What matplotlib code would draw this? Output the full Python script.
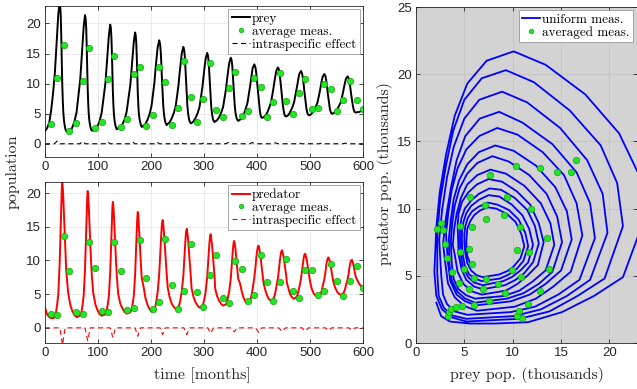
import matplotlib
matplotlib.use("Agg")
import matplotlib.pyplot as plt

# trajectory: time [months], prey / predator [thousands]
t = [0, 4, 8, 11.5, 15, 18.5, 20.8, 23, 25, 27.5, 28.7, 29.8, 30.8, 31.7, 32.5, 33.5, 34.5, 35.7, 37, 38.5, 40,
     43.5, 47.5, 51.5, 55.5, 59.5, 66.5, 68.8, 71, 73, 75.5, 76.7, 77.8, 78.8, 79.7, 80.5, 81.5, 82.5, 83.7, 85, 86.5, 88,
     91, 95, 99, 103, 107, 114, 116.3, 118.5, 120.5, 123, 124.2, 125.3, 126.3, 127.2, 128, 129, 130, 131.2, 132.5, 134, 135.5,
     138, 142, 146, 150, 154, 161, 163.3, 165.5, 167.5, 170, 171.2, 172.3, 173.3, 174.2, 175, 176, 177, 178.2, 179.5, 181, 182.5,
     186, 189.5, 193.5, 197.5, 201, 206.5, 208.5, 210.5, 212.5, 215.5, 217.1, 218.4, 219.6, 220.8, 222, 223, 224.2, 225.5, 226.7, 228.1, 229.5,
     231.5, 235, 239, 243, 246.5, 252, 254, 256, 258, 261, 262.6, 263.9, 265.1, 266.3, 267.5, 268.5, 269.7, 271, 272.2, 273.6, 275,
     276.5, 280, 284, 288, 291.5, 297, 299, 301, 303, 306, 307.6, 308.9, 310.1, 311.3, 312.5, 313.5, 314.7, 316, 317.2, 318.6, 320,
     321, 324.5, 328.5, 332.5, 336, 341.5, 343.5, 345.5, 347.5, 350.5, 352.1, 353.4, 354.6, 355.8, 357, 358, 359.2, 360.5, 361.7, 363.1, 364.5,
     368, 371.5, 375, 378.5, 382, 386.5, 388.3, 390, 391.8, 395, 397, 398.5, 400, 401.5, 403, 404.2, 405.5, 406.8, 408, 409.2, 410.5,
     412.5, 416, 419.5, 423, 426.5, 431, 432.8, 434.5, 436.3, 439.5, 441.5, 443, 444.5, 446, 447.5, 448.7, 450, 451.3, 452.5, 453.7, 455,
     456.5, 460, 463, 466.5, 470, 474.5, 476.3, 478, 479.8, 483, 485, 486.5, 488, 489.5, 491, 492.2, 493.5, 494.8, 496, 497.2, 498.5,
     500.5, 503.5, 507, 510.5, 514, 518.5, 520.3, 522, 523.8, 527, 529, 530.5, 532, 533.5, 535, 536.2, 537.5, 538.8, 540, 541.2, 542.5,
     544.5, 547.5, 551, 554.5, 558, 562.5, 564.3, 566, 567.8, 571, 573, 574.5, 576, 577.5, 579, 580.2, 581.5, 582.8, 584, 585.2, 586.5, 593, 600]
prey = [2.1, 2.6, 3.5, 5.5, 8.2, 11.6, 15.1, 18.4, 21.4, 23.6, 23.0, 21.0, 17.5, 13.4, 10.1, 7.3, 5.3, 4.0, 3.1, 2.45, 2.1,
        1.9, 2.1, 2.7, 3.7, 5.2, 10.7, 13.8, 16.7, 19.5, 21.4, 20.8, 19.1, 15.9, 12.2, 9.3, 6.8, 5.0, 3.85, 3.1, 2.5, 2.2,
        2.2, 2.35, 2.9, 3.75, 5.2, 10.1, 12.9, 15.6, 18.0, 19.8, 19.3, 17.7, 14.9, 11.5, 8.9, 6.55, 5.0, 3.9, 3.2, 2.7, 2.4,
        2.6, 2.8, 3.2, 4.0, 5.3, 9.8, 12.3, 14.7, 16.9, 18.5, 18.0, 16.6, 14.1, 11.0, 8.6, 6.6, 5.1, 4.2, 3.6, 3.1, 2.8,
        3.0, 3.3, 4.0, 5.0, 6.3, 10.2, 12.4, 14.2, 16.0, 17.2, 16.6, 15.3, 13.1, 10.5, 8.4, 6.55, 5.2, 4.3, 3.7, 3.35, 3.1,
        3.3, 3.55, 4.2, 5.1, 6.2, 9.8, 11.75, 13.4, 15.0, 16.1, 15.6, 14.4, 12.4, 10.1, 8.2, 6.5, 5.3, 4.45, 3.9, 3.6, 3.4,
        3.45, 3.7, 4.3, 5.1, 6.1, 9.4, 11.1, 12.7, 14.1, 15.1, 14.6, 13.5, 11.7, 9.6, 7.9, 6.35, 5.3, 4.5, 4.0, 3.75, 3.6,
        3.7, 3.9, 4.4, 5.2, 6.1, 9.1, 10.7, 12.1, 13.4, 14.3, 13.9, 12.9, 11.2, 9.3, 7.7, 6.35, 5.3, 4.65, 4.2, 3.95, 3.8,
        4.0, 4.3, 4.9, 5.75, 6.8, 9.3, 10.5, 11.5, 12.6, 13.2, 12.7, 11.8, 10.4, 8.9, 7.5, 6.3, 5.4, 4.75, 4.4, 4.3, 4.35,
        4.4, 4.7, 5.2, 6.0, 6.9, 9.2, 10.3, 11.2, 12.1, 12.7, 12.3, 11.5, 10.2, 8.8, 7.6, 6.5, 5.7, 5.05, 4.7, 4.55, 4.55,
        4.6, 4.85, 5.4, 6.0, 6.9, 9.0, 9.9, 10.8, 11.6, 12.1, 11.7, 11.0, 9.9, 8.6, 7.5, 6.5, 5.7, 5.2, 4.9, 4.75, 4.75,
        4.8, 5.05, 5.5, 6.1, 6.8, 8.7, 9.6, 10.4, 11.1, 11.6, 11.3, 10.6, 9.6, 8.4, 7.4, 6.5, 5.8, 5.35, 5.1, 5.0, 5.0,
        5.1, 5.3, 5.7, 6.25, 6.9, 8.6, 9.45, 10.1, 10.8, 11.2, 10.9, 10.3, 9.4, 8.3, 7.4, 6.6, 6.0, 5.6, 5.3, 5.25, 5.2, 5.3, 5.6]
pred = [3.0, 2.0, 1.6, 1.45, 1.45, 1.55, 2.3, 3.5, 4.9, 9.2, 12.6, 15.6, 18.5, 20.7, 21.7, 21.0, 19.3, 16.9, 14.0, 11.2, 8.6,
        5.3, 3.5, 2.5, 1.9, 1.6, 1.8, 2.35, 3.5, 4.8, 8.7, 11.9, 14.7, 17.3, 19.4, 20.3, 19.7, 18.1, 15.8, 13.2, 10.6, 8.2,
        5.2, 3.5, 2.6, 2.05, 1.8, 2.0, 2.5, 3.5, 4.7, 8.2, 11.1, 13.6, 16.0, 17.9, 18.7, 18.1, 16.7, 14.6, 12.3, 9.9, 7.7,
        5.1, 3.6, 2.9, 2.35, 2.1, 2.3, 2.7, 3.6, 4.7, 7.8, 10.4, 12.7, 14.8, 16.4, 17.2, 16.7, 15.4, 13.6, 11.5, 9.35, 7.4,
        6.1, 4.45, 3.4, 2.75, 2.4, 2.7, 3.3, 4.2, 5.3, 8.0, 10.4, 12.5, 14.2, 15.5, 16.0, 15.4, 14.4, 13.0, 11.4, 9.75, 8.1,
        6.0, 4.6, 3.6, 3.1, 2.8, 3.1, 3.6, 4.4, 5.4, 7.7, 9.8, 11.6, 13.2, 14.3, 14.7, 14.2, 13.3, 12.1, 10.7, 9.2, 7.8,
        5.9, 4.65, 3.8, 3.3, 3.0, 3.3, 3.7, 4.4, 5.3, 7.5, 9.4, 11.1, 12.5, 13.5, 13.9, 13.4, 12.6, 11.5, 10.2, 8.9, 7.6,
        5.9, 4.75, 4.0, 3.55, 3.3, 3.5, 3.9, 4.6, 5.4, 7.3, 8.9, 10.4, 11.7, 12.6, 12.9, 12.5, 11.8, 10.8, 9.6, 8.5, 7.3,
        6.6, 5.3, 4.4, 3.85, 3.6, 3.9, 4.4, 5.0, 5.8, 7.5, 8.9, 10.3, 11.3, 12.0, 12.2, 11.8, 11.2, 10.5, 9.6, 8.75, 7.9,
        6.6, 5.5, 4.7, 4.2, 4.0, 4.3, 4.7, 5.2, 6.0, 7.4, 8.7, 9.9, 10.8, 11.4, 11.5, 11.1, 10.6, 10.0, 9.3, 8.5, 7.8,
        6.7, 5.65, 4.9, 4.5, 4.3, 4.6, 4.9, 5.4, 6.0, 7.3, 8.5, 9.5, 10.3, 10.9, 11.0, 10.65, 10.2, 9.65, 9.0, 8.3, 7.7,
        6.7, 5.75, 5.1, 4.8, 4.6, 4.8, 5.1, 5.5, 6.1, 7.2, 8.2, 9.2, 9.9, 10.3, 10.45, 10.15, 9.8, 9.3, 8.7, 8.1, 7.5,
        6.7, 5.95, 5.4, 5.05, 4.9, 5.1, 5.35, 5.7, 6.3, 7.2, 8.1, 9.0, 9.6, 10.0, 10.1, 9.85, 9.5, 9.05, 8.5, 8.0, 7.5, 6.5, 5.9]

# intraspecific effect terms
prey_eff_t = [0, 18, 23, 28, 66, 71, 76, 113, 118, 123, 160, 165, 170, 206, 211, 216,
              251, 256, 261, 296, 301, 306, 341, 346, 351, 386, 391, 396, 430, 435, 440,
              474, 479, 484, 518, 523, 528, 562, 567, 572, 600]
prey_eff = [0, 0, 0.45, 0, 0, 0.4, 0, 0, 0.35, 0, 0, 0.3, 0, 0, 0.3, 0,
            0, 0.25, 0, 0, 0.2, 0, 0, 0.2, 0, 0, 0.2, 0, 0, 0.15, 0,
            0, 0.15, 0, 0, 0.15, 0, 0, 0.1, 0, 0]
pred_eff_t = [0, 28, 33, 38, 75.5, 80.5, 85.5, 123, 128, 133, 170, 175, 180, 217, 222, 227,
              262, 267.5, 273, 307, 312.5, 318, 351, 357, 363, 397, 403, 409, 441, 447.5, 454,
              485, 491, 497, 529, 535, 541, 573, 579, 585, 600]
pred_eff = [0, 0, -2.5, 0, 0, -1.9, 0, 0, -1.45, 0, 0, -1.25, 0, 0, -1.0, 0,
            0, -1.0, 0, 0, -0.8, 0, 0, -0.6, 0, 0, -0.65, 0, 0, -0.55, 0,
            0, -0.5, 0, 0, -0.4, 0, 0, -0.35, 0, 0]

# averaged measurements
meas_t = [11, 23, 35, 46, 58.5, 71, 83, 95, 107, 119, 131, 143, 155, 167, 179, 191, 203,
          215, 227, 239, 251, 263, 275, 287, 299, 311, 323, 335, 347, 359, 371, 383, 395,
          407, 419, 431, 443, 455, 467, 479, 491, 503, 515, 527, 539, 550, 563, 575.5, 588, 599.5]
meas_prey = [3.3, 11.0, 16.5, 2.2, 3.4, 10.4, 16.0, 2.6, 3.6, 10.7, 14.6, 2.8, 4.1, 11.6,
             12.8, 3.0, 4.8, 12.8, 10.3, 3.2, 6.0, 13.8, 7.7, 3.7, 7.5, 13.5, 5.6, 4.4, 9.2,
             11.9, 4.6, 5.5, 10.9, 9.4, 4.5, 6.9, 11.7, 7.1, 5.0, 8.5, 10.8, 5.75, 5.95,
             9.95, 9.05, 5.45, 7.2, 10.45, 7.25, 5.8]
meas_pred = [2.0, 1.85, 13.6, 8.5, 2.3, 2.0, 12.7, 8.9, 2.55, 2.35, 12.7, 8.4, 2.7, 2.9,
             13.05, 7.4, 2.75, 3.9, 13.2, 6.3, 2.85, 5.5, 12.5, 5.25, 3.1, 7.8, 10.85, 4.5,
             3.7, 9.95, 8.7, 4.0, 4.9, 10.85, 6.8, 4.0, 6.75, 10.25, 5.5, 4.4, 8.6, 8.6,
             4.85, 5.45, 9.55, 7.0, 4.75, 6.95, 9.2, 5.9]

GREEN = "#22e622"
GREEN_EDGE = "#13a013"
SERIF = "cmr10"
TICK_KW = dict(direction="in", length=3, width=0.6, top=True, right=True,
               labelsize=9.5, colors="#262626", pad=3)
DASH = (0, (4.5, 3.2))

plt.rcParams["font.family"] = ["Liberation Sans", "DejaVu Sans"]
plt.rcParams["axes.linewidth"] = 0.6
plt.rcParams["axes.edgecolor"] = "#262626"

fig = plt.figure(figsize=(6.37, 3.89), dpi=100)
W, H = 637, 389
ax1 = fig.add_axes([45 / W, 1 - 157 / H, 318 / W, 151 / H])
ax2 = fig.add_axes([45 / W, 1 - 343 / H, 318 / W, 161 / H])
ax3 = fig.add_axes([416 / W, 1 - 343 / H, 220.5 / W, 336 / H])


def legend(ax, **kw):
    leg = ax.legend(loc="upper right", bbox_to_anchor=(1, 1), borderaxespad=0.25,
                    prop={"family": SERIF, "size": 9.5}, handlelength=1.4,
                    handletextpad=0.15, borderpad=0.25, labelspacing=0.05,
                    fancybox=False, framealpha=1, markerscale=0.7, **kw)
    leg.get_frame().set_edgecolor("#9a9a9a")
    leg.get_frame().set_linewidth(0.6)
    return leg


for ax, series, eff_t, eff, color, ylim, name in [
        (ax1, prey, prey_eff_t, prey_eff, "black", (-2.2, 22.9), "prey"),
        (ax2, pred, pred_eff_t, pred_eff, "#ff0000", (-2.25, 21.65), "predator")]:
    ax.plot(t, series, color=color, lw=1.4, label=name)
    ax.plot(meas_t, meas_prey if name == "prey" else meas_pred, "o", ms=4.6,
            mfc=GREEN, mec=GREEN_EDGE, mew=0.5, label="average meas.")
    ax.plot(eff_t, eff, color=color, lw=0.8, linestyle=DASH, label="intraspecific effect")
    ax.set_xlim(0, 600)
    ax.set_ylim(*ylim)
    ax.set_xticks(range(0, 601, 100))
    ax.set_yticks([0, 5, 10, 15, 20])
    ax.grid(color="#e8e8e8", lw=0.6)
    ax.set_axisbelow(True)
    ax.tick_params(**TICK_KW)
    legend(ax)

ax3.set_facecolor("#d3d3d3")
ax3.plot(prey, pred, color="#0000ff", lw=1.3, label="uniform meas.")
ax3.plot(meas_prey, meas_pred, "o", ms=4.6, mfc=GREEN, mec=GREEN_EDGE, mew=0.5,
         label="averaged meas.")
ax3.set_xlim(0, 22.8)
ax3.set_ylim(0, 25)
ax3.set_xticks([0, 5, 10, 15, 20])
ax3.set_yticks([0, 5, 10, 15, 20, 25])
ax3.grid(color="#c4c4c4", lw=0.6)
ax3.set_axisbelow(True)
ax3.tick_params(**TICK_KW)
legend(ax3)

lab = dict(family=SERIF, size=11.5, ha="center", va="center", color="#262626")
fig.text(13 / W, 1 - 172 / H, "population", rotation=90, **lab)
fig.text(202 / W, 1 - 375 / H, "time [months]", **lab)
fig.text(527 / W, 1 - 375 / H, "prey pop. (thousands)", **lab)
fig.text(385 / W, 1 - 174 / H, "predator pop. (thousands)", rotation=90, **lab)

fig.savefig("out.png", dpi=100)
